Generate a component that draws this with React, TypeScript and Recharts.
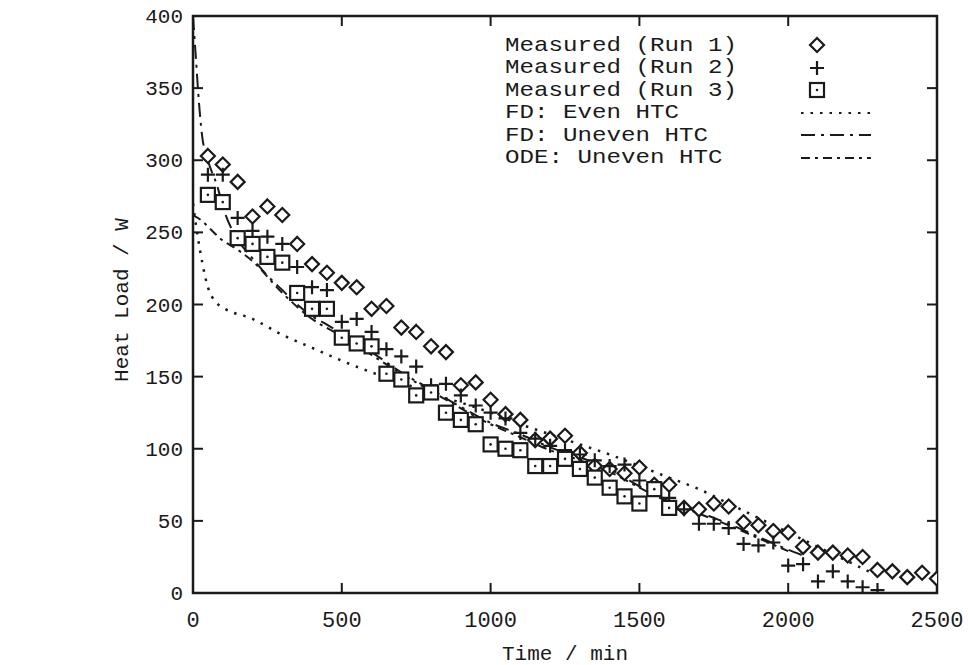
import React from 'react';
import {
  ComposedChart,
  Line,
  Scatter,
  XAxis,
  YAxis,
  ReferenceArea,
  Legend
} from 'recharts';

// measured runs: time (min) and heat load (W)
const run1Time = [50, 100, 150, 200, 250, 300, 350, 400, 450, 500, 550, 600, 650, 700, 750, 800, 850, 900, 950, 1000, 1050, 1100, 1150, 1200, 1250, 1300, 1350, 1400, 1450, 1500, 1550, 1600, 1650, 1700, 1750, 1800, 1850, 1900, 1950, 2000, 2050, 2100, 2150, 2200, 2250, 2300, 2350, 2400, 2450, 2500];
const run1Load = [303, 297, 285, 261, 268, 262, 242, 228, 222, 215, 212, 197, 199, 184, 181, 171, 167, 144, 146, 134, 124, 120, 106, 107, 109, 97, 88, 86, 83, 87, 75, 75, 59, 58, 62, 60, 49, 47, 43, 42, 32, 28, 28, 26, 25, 16, 15, 11, 14, 10];

const run2Time = [50, 100, 150, 200, 250, 300, 350, 400, 450, 500, 550, 600, 650, 700, 750, 800, 850, 900, 950, 1000, 1050, 1100, 1150, 1200, 1250, 1300, 1350, 1400, 1450, 1500, 1550, 1600, 1650, 1700, 1750, 1800, 1850, 1900, 1950, 2000, 2050, 2100, 2150, 2200, 2250, 2300];
const run2Load = [290, 290, 260, 251, 247, 242, 226, 212, 210, 188, 190, 181, 169, 164, 157, 144, 145, 137, 130, 125, 121, 111, 107, 102, 99, 96, 92, 88, 89, 78, 72, 66, 58, 48, 48, 45, 34, 33, 35, 19, 20, 8, 15, 8, 4, 2];

const run3Time = [50, 100, 150, 200, 250, 300, 350, 400, 450, 500, 550, 600, 650, 700, 750, 800, 850, 900, 950, 1000, 1050, 1100, 1150, 1200, 1250, 1300, 1350, 1400, 1450, 1500, 1550, 1600];
const run3Load = [276, 271, 246, 242, 233, 229, 208, 197, 197, 177, 173, 171, 152, 148, 137, 139, 125, 120, 117, 103, 100, 99, 88, 88, 93, 86, 80, 73, 67, 62, 72, 59];

// model curves
const evenTime = [0, 10, 25, 50, 75, 100, 200, 300, 400, 500, 600, 700, 800, 900, 1000, 1100, 1200, 1300, 1400, 1500, 1600, 1700, 1800, 1900, 2000, 2100, 2200, 2300];
const evenLoad = [270, 255, 236, 212, 202, 198, 190, 179, 170, 161, 153, 146, 138, 132, 125, 117, 110, 103, 96, 88, 80, 72, 62, 52, 42, 32, 22, 12];

const fdUnevenTime = [0, 10, 20, 30, 50, 80, 110, 150, 200, 250, 300, 350, 400, 450, 500, 600, 700, 800, 900, 1000, 1100, 1200, 1300, 1400, 1500, 1600, 1700, 1800, 1900, 2000, 2050];
const fdUnevenLoad = [400, 370, 340, 318, 300, 283, 262, 245, 232, 220, 210, 200, 192, 186, 180, 167, 153, 141, 129, 118, 110, 101, 94, 86, 74, 64, 56, 48, 39, 30, 26];

const odeTime = [0, 30, 60, 90, 150, 200, 300, 400, 500, 600, 700, 800, 900, 1000, 1100, 1200, 1300, 1400, 1500, 1600, 1700, 1800, 1900, 2000];
const odeLoad = [262, 258, 252, 246, 238, 230, 208, 190, 178, 165, 152, 140, 128, 117, 108, 99, 92, 84, 73, 63, 55, 47, 38, 29];

const xTicks = [0, 500, 1000, 1500, 2000, 2500];
const yTicks = [0, 50, 100, 150, 200, 250, 300, 350, 400];

const toRows = (t: number[], v: number[]) => t.map((time, i) => ({ time, load: v[i] }));

const run1 = toRows(run1Time, run1Load);
const run2 = toRows(run2Time, run2Load);
const run3 = toRows(run3Time, run3Load);
const even = toRows(evenTime, evenLoad);
const fdUneven = toRows(fdUnevenTime, fdUnevenLoad);
const ode = toRows(odeTime, odeLoad);

const FONT = '"Liberation Mono", "DejaVu Sans Mono", monospace';
const INK = '#1a1a1a';
const LEFT = 193;
const RIGHT = 937;
const TOP = 16;
const BOTTOM = 593;

const DOTTED = '2.5 7';
const DASH_DOT = '14 6 3 6';
const DASH_DOT_DOT = '9 5 3 5';

const Diamond = ({ cx, cy }: any) => (
  <path d={`M${cx},${cy - 7}L${cx + 7},${cy}L${cx},${cy + 7}L${cx - 7},${cy}Z`} fill="#fff" stroke={INK} strokeWidth={2.2} />
);

const Plus = ({ cx, cy }: any) => (
  <path d={`M${cx - 7},${cy}H${cx + 7}M${cx},${cy - 7}V${cy + 7}`} stroke={INK} strokeWidth={2.2} fill="none" />
);

const Box = ({ cx, cy }: any) => (
  <g>
    <rect x={cx - 7} y={cy - 7} width={14} height={14} fill="#fff" stroke={INK} strokeWidth={2.2} />
    <circle cx={cx} cy={cy} r={1.3} fill={INK} />
  </g>
);

const YTick = ({ x, y, payload }: any) => {
  const inner = payload.value > 0 && payload.value < 400;
  return (
    <g>
      <text x={x} y={y} dy={7} textAnchor="end" fontFamily={FONT} fontSize={21} fill={INK}>
        {payload.value}
      </text>
      {inner && <line x1={LEFT} x2={LEFT + 10} y1={y} y2={y} stroke={INK} strokeWidth={2} />}
      {inner && <line x1={RIGHT} x2={RIGHT - 10} y1={y} y2={y} stroke={INK} strokeWidth={2} />}
    </g>
  );
};

const XTick = ({ x, y, payload }: any) => {
  const inner = payload.value > 0 && payload.value < 2500;
  return (
    <g>
      <text x={x} y={y} dy={28} textAnchor="middle" fontFamily={FONT} fontSize={22} fill={INK}>
        {payload.value}
      </text>
      {inner && <line x1={x} x2={x} y1={BOTTOM} y2={BOTTOM - 10} stroke={INK} strokeWidth={2} />}
      {inner && <line x1={x} x2={x} y1={TOP} y2={TOP + 10} stroke={INK} strokeWidth={2} />}
    </g>
  );
};

const YTitle = () => (
  <text x={128} y={300} transform="rotate(-90 128 300)" textAnchor="middle" fontFamily={FONT} fontSize={21} fill={INK}>
    Heat Load / W
  </text>
);

const XTitle = () => (
  <text x={565} y={660} textAnchor="middle" fontFamily={FONT} fontSize={21} fill={INK}>
    Time / min
  </text>
);

const legendRows = [
  { label: 'Measured (Run 1)', kind: 'diamond' },
  { label: 'Measured (Run 2)', kind: 'plus' },
  { label: 'Measured (Run 3)', kind: 'box' },
  { label: 'FD: Even HTC', kind: DOTTED },
  { label: 'FD: Uneven HTC', kind: DASH_DOT },
  { label: 'ODE: Uneven HTC', kind: DASH_DOT_DOT }
];

const LegendBox = () => (
  <div style={{ fontFamily: FONT, fontSize: 21, color: INK }}>
    {legendRows.map((row) => (
      <div key={row.label} style={{ display: 'flex', alignItems: 'center', height: 22.5 }}>
        <span style={{ width: 292, whiteSpace: 'pre', display: 'inline-block', transform: 'scaleX(1.15)', transformOrigin: 'left center' }}>
          {row.label}
        </span>
        <svg width={80} height={22}>
          {row.kind === 'diamond' && <Diamond cx={20} cy={11} />}
          {row.kind === 'plus' && <Plus cx={20} cy={11} />}
          {row.kind === 'box' && <Box cx={20} cy={11} />}
          {row.kind.includes(' ') && (
            <line x1={4} x2={74} y1={11} y2={11} stroke={INK} strokeWidth={2.2} strokeDasharray={row.kind} />
          )}
        </svg>
      </div>
    ))}
  </div>
);

export default function App() {
  React.useEffect(() => {
    document.body.style.margin = '0';
    document.body.style.background = '#fff';
  }, []);

  return (
    <div style={{ width: 968, height: 665, background: '#fff', position: 'relative' }}>
      <ComposedChart width={968} height={665} margin={{ top: TOP, right: 968 - RIGHT, bottom: 0, left: 0 }}>
        <XAxis
          type="number"
          dataKey="time"
          domain={[0, 2500]}
          ticks={xTicks}
          tick={<XTick />}
          tickLine={false}
          axisLine={false}
          tickSize={0}
          tickMargin={6}
          height={665 - BOTTOM}
          allowDataOverflow
          label={<XTitle />}
        />
        <YAxis
          type="number"
          dataKey="load"
          domain={[0, 400]}
          ticks={yTicks}
          tick={<YTick />}
          tickLine={false}
          axisLine={false}
          tickSize={0}
          tickMargin={10}
          width={LEFT}
          allowDataOverflow
          label={<YTitle />}
        />
        <ReferenceArea x1={0} x2={2500} y1={0} y2={400} fill="none" stroke={INK} strokeWidth={2.5} fillOpacity={0} />
        <Line data={even} dataKey="load" type="monotone" stroke={INK} strokeWidth={2.5} strokeDasharray={DOTTED} dot={false} isAnimationActive={false} />
        <Line data={fdUneven} dataKey="load" type="monotone" stroke={INK} strokeWidth={2} strokeDasharray={DASH_DOT} dot={false} isAnimationActive={false} />
        <Line data={ode} dataKey="load" type="monotone" stroke={INK} strokeWidth={2} strokeDasharray={DASH_DOT_DOT} dot={false} isAnimationActive={false} />
        <Scatter data={run1} dataKey="load" shape={<Diamond />} isAnimationActive={false} />
        <Scatter data={run2} dataKey="load" shape={<Plus />} isAnimationActive={false} />
        <Scatter data={run3} dataKey="load" shape={<Box />} isAnimationActive={false} />
        <Legend
          layout="vertical"
          align="center"
          verticalAlign="middle"
          content={<LegendBox />}
          wrapperStyle={{ position: 'absolute', top: 34, left: 505, width: 380 }}
        />
      </ComposedChart>
    </div>
  );
}
